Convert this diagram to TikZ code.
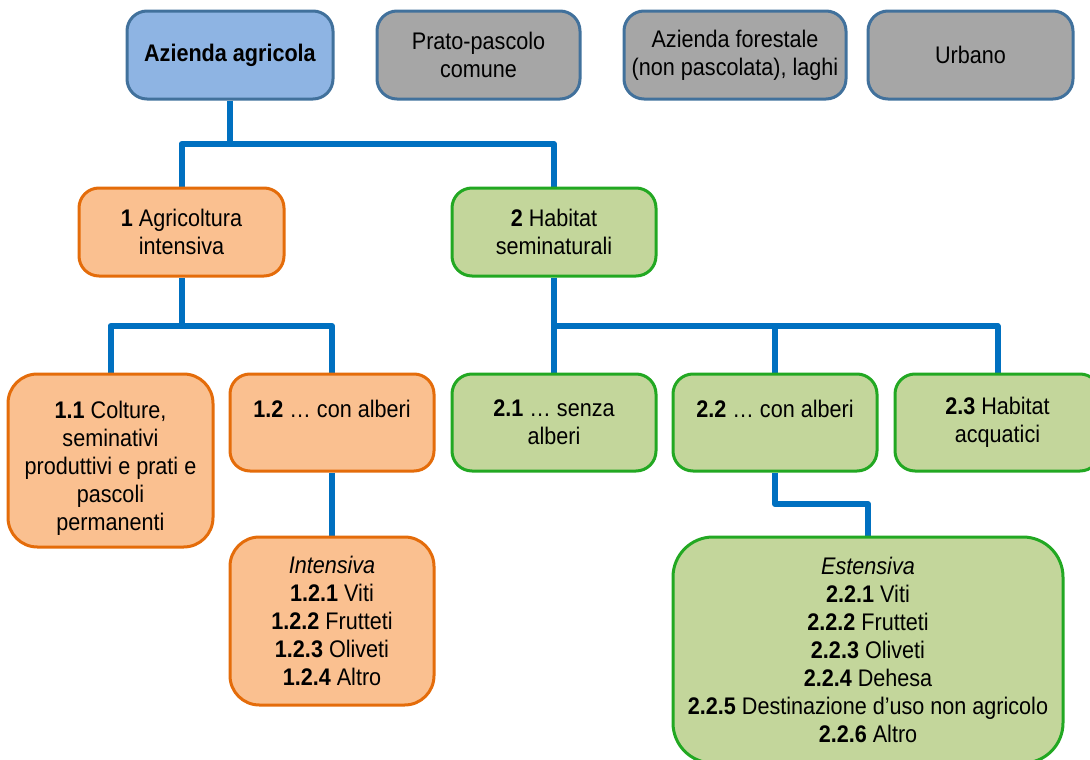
\documentclass[tikz,border=0pt]{standalone}
\usepackage{fontspec}
\setmainfont{Liberation Sans}[FakeStretch=0.9]
\usetikzlibrary{backgrounds}
\definecolor{bluefill}{HTML}{8EB4E3}
\definecolor{blueedge}{HTML}{41719C}
\definecolor{grayfill}{HTML}{A6A6A6}
\definecolor{orangefill}{HTML}{FAC090}
\definecolor{orangeedge}{HTML}{E46C0A}
\definecolor{greenfill}{HTML}{C3D69B}
\definecolor{greenedge}{HTML}{22A822}
\definecolor{linkblue}{HTML}{0070C0}
\tikzset{
  box/.style={draw, rounded corners=15pt, line width=2.25pt, align=center,
    inner sep=0pt, minimum height=88*0.75pt,
    font=\fontsize{18pt}{21pt}\selectfont},
  topbox/.style={box, fill=bluefill, draw=blueedge},
  graybox/.style={box, fill=grayfill, draw=blueedge},
  orangebox/.style={box, fill=orangefill, draw=orangeedge},
  greenbox/.style={box, fill=greenfill, draw=greenedge},
  link/.style={draw=linkblue, line width=4.5pt, line join=round}
}
\begin{document}
\begin{tikzpicture}[x=0.75pt, y=-0.75pt]
\clip (0,0) rectangle (1090,760);
% top row
\node[topbox, minimum width=206*0.75pt] (az) at (230,55) {\textbf{Azienda agricola}};
\node[graybox, minimum width=203*0.75pt] (pp) at (478.5,55) {Prato-pascolo\\comune};
\node[graybox, minimum width=222*0.75pt] (af) at (735,55) {Azienda forestale\\(non pascolata), laghi};
\node[graybox, minimum width=205*0.75pt] (ur) at (970.5,55) {Urbano};
% second row
\node[orangebox, minimum width=205*0.75pt] (a1) at (181.5,232) {\textbf{1} Agricoltura\\intensiva};
\node[greenbox, minimum width=204*0.75pt] (a2) at (554,232) {\textbf{2} Habitat\\seminaturali};
% third row
\node[orangebox, rounded corners=22pt, minimum width=205*0.75pt, minimum height=173*0.75pt] (b11) at (110.5,460.5)
  {\rule{0pt}{24pt}\textbf{1.1} Colture,\\seminativi\\produttivi e prati e\\pascoli\\permanenti};
\node[orangebox, minimum width=204*0.75pt, minimum height=97*0.75pt] (b12) at (332,422.5)
  {\rule{0pt}{20pt}\textbf{1.2} … con alberi\\\strut};
\node[greenbox, minimum width=204*0.75pt, minimum height=97*0.75pt] (b21) at (554,422.5)
  {\textbf{2.1} … senza\\alberi};
\node[greenbox, minimum width=204*0.75pt, minimum height=97*0.75pt] (b22) at (775,422.5)
  {\rule{0pt}{20pt}\textbf{2.2} … con alberi\\\strut};
\node[greenbox, minimum width=205*0.75pt, minimum height=97*0.75pt] (b23) at (997.5,422.5)
  {\textbf{2.3} Habitat\\acquatici};
% fourth row
\node[orangebox, rounded corners=22pt, minimum width=204*0.75pt, minimum height=168*0.75pt] (int) at (332,621)
  {\textit{Intensiva}\\\textbf{1.2.1} Viti\\\textbf{1.2.2} Frutteti\\\textbf{1.2.3} Oliveti\\\textbf{1.2.4} Altro};
\node[greenbox, rounded corners=30pt, minimum width=390*0.75pt, minimum height=226*0.75pt] (est) at (868,650)
  {\textit{Estensiva}\\\textbf{2.2.1} Viti\\\textbf{2.2.2} Frutteti\\\textbf{2.2.3} Oliveti\\\textbf{2.2.4} Dehesa\\\textbf{2.2.5} Destinazione d’uso non agricolo\\\textbf{2.2.6} Altro};
% junctions
\coordinate (j1) at (230,144);
\coordinate (j2) at (181.5,326);
\coordinate (j3) at (554,326);
\coordinate (j4) at (775,504);
\begin{scope}[on background layer]
\draw[link] (az.south) -- (j1);
\draw[link] (a1.north) |- (j1) -| (a2.north);
\draw[link] (a1.south) -- (j2);
\draw[link] (b11.north) |- (j2) -| (b12.north);
\draw[link] (a2.south) -- (b21.north);
\draw[link] (j3) -| (b22.north);
\draw[link] (j3) -| (b23.north);
\draw[link] (b12.south) -- (int.north);
\draw[link] (b22.south) -- (j4) -| (est.north);
\end{scope}
\end{tikzpicture}
\end{document}
